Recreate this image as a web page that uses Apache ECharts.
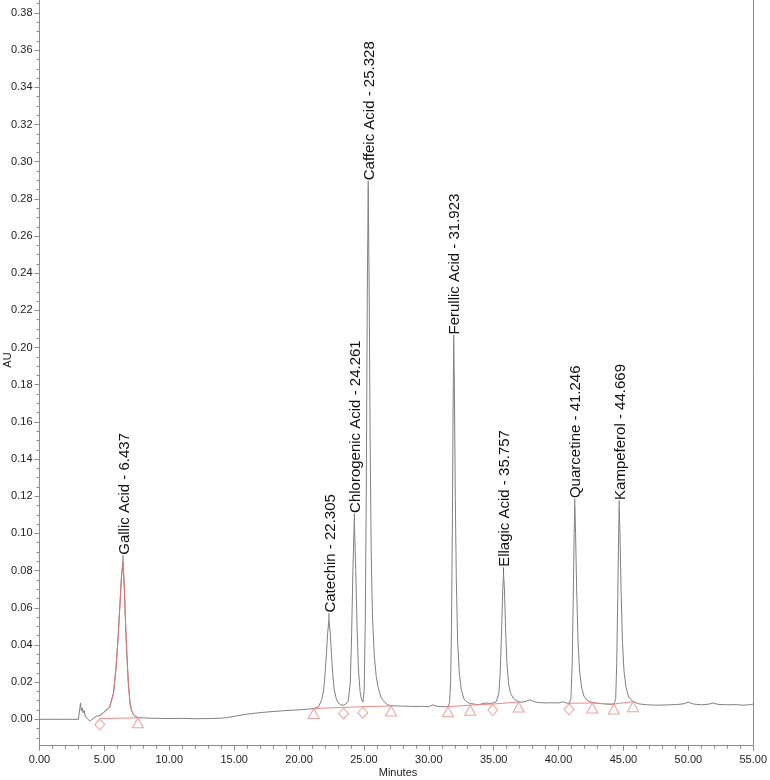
<!DOCTYPE html>
<html>
<head>
<meta charset="utf-8">
<script src="https://cdn.jsdelivr.net/npm/echarts@6/dist/echarts.min.js"></script>
<style>
html,body{margin:0;padding:0;background:#fff;}
#chart{width:770px;height:780px;}
</style>
</head>
<body>
<div id="chart"></div>
<script>
// ---- Data ----
var traceTime = [0,1,2,3.0,3.1,3.16,3.22,3.3,3.36,3.44,3.52,3.65,3.87,4.1,4.35,4.64,
  5.0,5.4,5.7,5.9,6.05,6.2,6.32,6.43,6.53,6.63,6.73,6.85,6.97,7.1,7.3,7.58,
  8.5,10,11,12,13,14,14.5,15,16,17,18,19,20,20.6,21.13,
  21.5,21.75,21.9,22.0,22.1,22.2,22.3,22.4,22.5,22.6,22.7,22.85,23.0,23.2,23.43,
  23.6,23.8,23.95,24.05,24.15,24.26,24.37,24.47,24.57,24.7,24.82,24.93,
  25.02,25.1,25.18,25.26,25.33,25.4,25.48,25.56,25.66,25.8,25.95,26.1,26.3,26.55,26.8,27.09,
  27.5,28,28.5,29,29.5,30.0,30.3,30.6,31.0,31.48,
  31.6,31.68,31.75,31.82,31.88,31.92,31.97,32.04,32.12,32.22,32.35,32.5,32.7,32.95,33.19,
  33.5,33.8,34.1,34.4,34.7,34.93,
  35.2,35.4,35.5,35.6,35.7,35.76,35.83,35.92,36.02,36.15,36.3,36.5,36.7,36.92,
  37.2,37.5,37.8,38.1,38.5,39.0,39.5,40.0,40.3,40.6,40.81,
  40.95,41.05,41.13,41.2,41.25,41.31,41.4,41.5,41.62,41.78,41.95,42.2,42.6,
  43.0,43.5,44.0,44.26,
  44.4,44.48,44.56,44.63,44.67,44.73,44.82,44.92,45.04,45.2,45.4,45.74,
  46.2,46.8,47.5,48.2,49,49.6,50.0,50.4,51,51.6,51.9,52.3,53,53.6,54.2,54.7,55];
var traceAU = [0,0,0,0,0.0003,0.0088,0.0045,0.0062,0.0035,0.0048,0.0018,0.0006,-0.0009,0.0002,0.0016,0.002,
  0.004,0.0065,0.014,0.028,0.043,0.062,0.077,0.0845,0.072,0.052,0.035,0.019,0.009,0.0045,0.002,0.0009,
  0.0006,0.0004,0.0005,0.0003,0.0004,0.0006,0.001,0.0016,0.0028,0.0036,0.0042,0.0047,0.0051,0.0054,0.0058,
  0.0068,0.0105,0.016,0.024,0.034,0.046,0.0534,0.047,0.035,0.024,0.0165,0.0115,0.009,0.0078,0.0076,
  0.0082,0.010,0.02,0.045,0.08,0.107,0.08,0.05,0.028,0.015,0.0105,0.0093,
  0.016,0.05,0.12,0.23,0.286,0.235,0.15,0.09,0.055,0.034,0.023,0.017,0.012,0.0095,0.008,0.0073,
  0.0072,0.0071,0.007,0.0069,0.007,0.0068,0.0078,0.007,0.0068,0.0068,
  0.009,0.02,0.05,0.11,0.175,0.203,0.18,0.12,0.075,0.042,0.025,0.016,0.011,0.0092,0.0085,
  0.0082,0.0078,0.0083,0.0088,0.0085,0.0088,
  0.0095,0.014,0.025,0.045,0.07,0.078,0.07,0.048,0.03,0.019,0.014,0.0115,0.0102,0.0095,
  0.0092,0.0098,0.0105,0.0095,0.009,0.0088,0.0089,0.0088,0.0094,0.0088,0.0086,
  0.011,0.03,0.065,0.1,0.115,0.1,0.068,0.042,0.026,0.017,0.0125,0.0102,0.009,
  0.0086,0.0083,0.008,0.0082,
  0.011,0.03,0.065,0.1,0.114,0.1,0.068,0.042,0.026,0.017,0.012,0.0095,
  0.0083,0.0078,0.0076,0.0077,0.0079,0.0083,0.0092,0.0082,0.0078,0.0082,0.0088,0.008,0.0078,0.0079,0.0076,0.0078,0.0082];

// integrated Gallic Acid peak (drawn in red)
var gallicTime = [4.64,5.0,5.4,5.7,5.9,6.05,6.2,6.32,6.43,6.53,6.63,6.73,6.85,6.97,7.1,7.3,7.58];
var gallicAU   = [0.002,0.004,0.0065,0.014,0.028,0.043,0.062,0.077,0.0845,0.072,0.052,0.035,0.019,0.009,0.0045,0.002,0.0009];

// peak labels
var peakNames  = ["Gallic Acid","Catechin","Chlorogenic Acid","Caffeic Acid","Ferullic Acid","Ellagic Acid","Quarcetine","Kampeferol"];
var peakTimes  = [6.437,22.305,24.261,25.328,31.923,35.757,41.246,44.669];
var peakHeights= [0.0845,0.0534,0.107,0.286,0.203,0.078,0.115,0.114];

// integration markers (baseline points)
var markerTimes  = [4.64,7.58,21.13,23.43,24.91,27.09,31.48,33.19,34.93,36.92,40.81,42.60,44.26,45.74];
var markerAU     = [0.0004,0.0008,0.0058,0.0064,0.0068,0.0072,0.0068,0.0076,0.0082,0.0093,0.0086,0.0088,0.0082,0.0095];
var markerShapes = ["diamond","triangle","triangle","diamond","diamond","triangle","triangle","triangle","diamond","triangle","diamond","triangle","triangle","triangle"];
var baselineGroups = [[0,1],[2,3,4,5],[6,7,8,9],[10,11,12,13]];

// axis ticks
var xMin = 0, xMax = 55, xStep = 5;
var yMin = -0.0142, yMax = 0.387;
var yMajorTicks = [0.00,0.02,0.04,0.06,0.08,0.10,0.12,0.14,0.16,0.18,0.20,0.22,0.24,0.26,0.28,0.30,0.32,0.34,0.36,0.38];
var yMinorTicks = [];
for (var k = -2; k <= 77; k++) { if (k % 4 !== 0) yMinorTicks.push(+(k * 0.005).toFixed(3)); }

// ---- Build chart ----
function zip(a, b) { return a.map(function (v, i) { return [v, b[i]]; }); }

var FONT = "'Liberation Sans', Arial, sans-serif";
var AXIS_COLOR = '#8c8c8c';
var RED = '#e07474';
var RED_LIGHT = '#ef8a8a';

var series = [];
series.push({
  type: 'line', data: zip(traceTime, traceAU), symbol: 'none', silent: true,
  lineStyle: { color: '#808080', width: 1 }, z: 2
});
series.push({
  type: 'line', data: zip(gallicTime, gallicAU), symbol: 'none', silent: true,
  lineStyle: { color: RED, width: 1 }, z: 3
});
baselineGroups.forEach(function (g) {
  series.push({
    type: 'line', symbol: 'none', silent: true,
    data: g.map(function (i) { return [markerTimes[i], markerAU[i]]; }),
    lineStyle: { color: RED_LIGHT, width: 1 }, z: 3
  });
});
['diamond', 'triangle'].forEach(function (shape) {
  var d = [];
  markerTimes.forEach(function (t, i) { if (markerShapes[i] === shape) d.push([t, markerAU[i]]); });
  series.push({
    type: 'scatter', data: d, symbol: shape,
    symbolSize: shape === 'diamond' ? [10, 11] : [11, 10],
    symbolOffset: [0, shape === 'diamond' ? 6 : 5],
    silent: true,
    itemStyle: { color: 'rgba(0,0,0,0)', borderColor: RED_LIGHT, borderWidth: 1 }, z: 4
  });
});
series.push({
  type: 'custom', coordinateSystem: 'cartesian2d', silent: true, z: 5,
  data: zip(peakTimes, peakHeights),
  renderItem: function (params, api) {
    var p = api.coord([api.value(0), api.value(1)]);
    var label = peakNames[params.dataIndex] + ' - ' + peakTimes[params.dataIndex].toFixed(3);
    return {
      type: 'group',
      children: [
        { type: 'line', shape: { x1: p[0], y1: p[1], x2: p[0], y2: p[1] - 7 },
          style: { stroke: '#666', lineWidth: 1 } },
        { type: 'text', x: p[0] + 1.5, y: p[1] - 7.5, rotation: Math.PI / 2,
          style: { text: label, font: '15px ' + FONT, fill: '#111', align: 'left', verticalAlign: 'middle' } }
      ]
    };
  }
});

var chart = echarts.init(document.getElementById('chart'), null, { renderer: 'canvas' });
chart.setOption({
  animation: false,
  backgroundColor: '#ffffff',
  grid: { left: 39.5, right: 13.3, top: 0, bottom: 34.3, containLabel: false },
  xAxis: {
    type: 'value', min: xMin, max: xMax, interval: xStep,
    axisLine: { show: true, onZero: false, lineStyle: { color: AXIS_COLOR, width: 1 } },
    axisTick: { show: true, length: 5, lineStyle: { color: AXIS_COLOR } },
    minorTick: { show: true, splitNumber: 5, length: 3, lineStyle: { color: AXIS_COLOR } },
    axisLabel: { margin: 9, color: '#222', fontSize: 11, fontFamily: FONT,
      formatter: function (v) { return v.toFixed(2); } },
    splitLine: { show: false }, minorSplitLine: { show: false }
  },
  yAxis: [{
    type: 'value', min: yMin, max: yMax,
    axisLine: { show: true, onZero: false, lineStyle: { color: AXIS_COLOR, width: 1 } },
    axisTick: { show: true, length: 5, customValues: yMajorTicks, lineStyle: { color: AXIS_COLOR } },
    axisLabel: { margin: 7, color: '#222', fontSize: 11, fontFamily: FONT, customValues: yMajorTicks,
      formatter: function (v) { return v.toFixed(2); } },
    splitLine: { show: false }
  }, {
    type: 'value', min: yMin, max: yMax, position: 'left',
    axisLine: { show: false },
    axisTick: { show: true, length: 3, customValues: yMinorTicks, lineStyle: { color: AXIS_COLOR } },
    axisLabel: { show: false },
    splitLine: { show: false }
  }, {
    type: 'value', min: yMin, max: yMax, position: 'right',
    axisLine: { show: true, lineStyle: { color: AXIS_COLOR, width: 1 } },
    axisTick: { show: false }, axisLabel: { show: false }, splitLine: { show: false }
  }],
  graphic: [
    { type: 'text', x: 8, y: 360, rotation: Math.PI / 2,
      style: { text: 'AU', font: '11px ' + FONT, fill: '#222', align: 'center', verticalAlign: 'middle' } },
    { type: 'text', x: 398, y: 773,
      style: { text: 'Minutes', font: '11px ' + FONT, fill: '#222', align: 'center', verticalAlign: 'middle' } }
  ],
  series: series
});
</script>
</body>
</html>
